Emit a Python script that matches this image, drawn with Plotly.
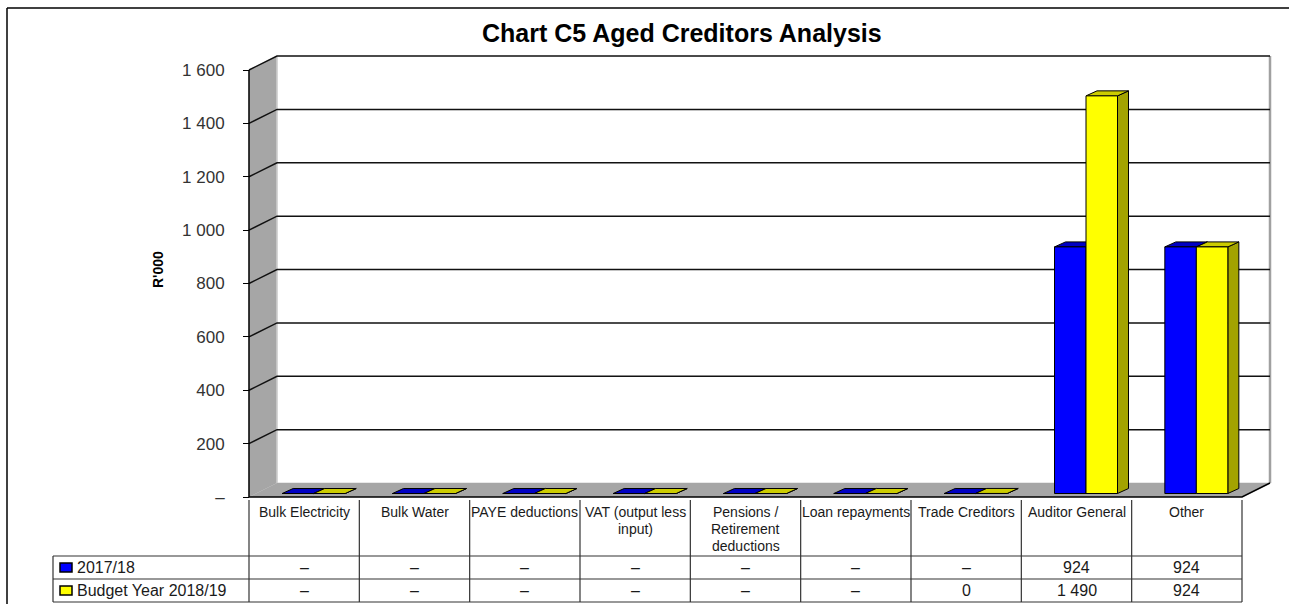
import plotly.graph_objects as go

# ---------------- data ----------------
categories = ["Bulk Electricity", "Bulk Water", "PAYE deductions",
              "VAT (output less input)", "Pensions / Retirement deductions",
              "Loan repayments", "Trade Creditors", "Auditor General", "Other"]
category_labels = ["Bulk Electricity", "Bulk Water", "PAYE deductions",
                   "VAT (output less<br>input)", "Pensions /<br>Retirement<br>deductions",
                   "Loan repayments", "Trade Creditors", "Auditor General", "Other"]
series_names = ["2017/18", "Budget Year 2018/19"]
values_2017_18 = [0, 0, 0, 0, 0, 0, 0, 924, 924]
values_2018_19 = [0, 0, 0, 0, 0, 0, 0.2, 1490, 924]
y_ticks = [0, 200, 400, 600, 800, 1000, 1200, 1400, 1600]
title_text = "Chart C5 Aged Creditors Analysis"
y_title = "R'000"

series_values = [values_2017_18, values_2018_19]

# ---------------- styles / geometry (pixels) ----------------
W, H = 1289, 604
FONT = "Liberation Sans, Arial, sans-serif"
AX_LEFT = 249.0
CAT_W = (1242.0 - 249.0) / len(categories)
Y0_PX = 497.0
PX_PER_UNIT = (497.0 - 70.0) / 1600.0
DEPTH_X, DEPTH_Y = 28.0, 14.0
PLOT_LEFT, PLOT_RIGHT, PLOT_TOP, PLOT_BOTTOM = 244.0, 1276.0, 46.0, 504.0

front_face = ["#0000ff", "#ffff00"]
top_face = ["#0000c4", "#cccc00"]
side_face = ["#000099", "#a3a300"]
WALL_GREY = "#a6a6a6"

BAR_W_PX = 31.5
PAIR_SHIFT_PX = 9.5
BAR_BASE_PX = 3.5
BAR_DEPTH_X, BAR_DEPTH_Y = 11.0, 5.0
TICK_TXT = 17
CAT_TXT = 14
TABLE_TXT = 16


def dx(px):
    return px / CAT_W


def dy(px):
    return px / PX_PER_UNIT


def fmt(v):
    if v == 0:
        return "–"
    return f"{round(v):,}".replace(",", " ")


def pxp(x):
    return x / W


def pyp(y):
    return 1 - y / H


n = len(categories)
x_left = -0.5
x_right = n - 0.5
ymax = y_ticks[-1]
BX, BY = dx(DEPTH_X), dy(DEPTH_Y)

fig = go.Figure()


def poly(xs, ys, fill, line_color="black", lw=1.0):
    fig.add_trace(go.Scatter(x=xs, y=ys, mode="lines", fill="toself",
                             fillcolor=fill, line=dict(color=line_color, width=lw),
                             hoverinfo="skip", showlegend=False))


def line(xs, ys, color="black", lw=1.5):
    fig.add_trace(go.Scatter(x=xs, y=ys, mode="lines",
                             line=dict(color=color, width=lw),
                             hoverinfo="skip", showlegend=False))


# side wall
poly([x_left, x_left, x_left + BX, x_left + BX],
     [0, ymax, ymax + BY, BY], WALL_GREY, line_color=WALL_GREY, lw=0.5)
# floor
poly([x_left, x_left + BX, x_right + BX, x_right],
     [0, BY, BY, 0], WALL_GREY, line_color=WALL_GREY, lw=0.5)
# back wall edges
line([x_left + BX, x_left + BX], [BY, ymax + BY], color="#cfcfcf", lw=1.5)
line([x_right + BX, x_right + BX], [BY, ymax + BY], color="#a0a0a0", lw=2.5)

# gridlines (side wall diagonal + back wall)
gx, gy = [], []
for t in y_ticks[1:]:
    gx += [x_left, x_left + BX, x_right + BX, None]
    gy += [t, t + BY, t + BY, None]
line(gx, gy, color="#111111", lw=1.5)

# front axis line and floor front edge
line([x_left, x_left], [0, ymax], color="black", lw=1.5)
line([x_left, x_right, x_right + BX], [0, 0, BY], color="black", lw=1.5)

# 3D bars
bw = dx(BAR_W_PX)
shift = dx(PAIR_SHIFT_PX)
base = dy(BAR_BASE_PX)
tdx, tdy = dx(BAR_DEPTH_X), dy(BAR_DEPTH_Y)
for s, vals in enumerate(series_values):
    sx, sy, tx, ty, fx, fy = [], [], [], [], [], []
    for i, v in enumerate(vals):
        x0 = i + shift - bw + s * bw
        x1 = x0 + bw
        y1 = base + v
        sx += [x1, x1, x1 + tdx, x1 + tdx, x1, None]
        sy += [base, y1, y1 + tdy, base + tdy, base, None]
        tx += [x0, x1, x1 + tdx, x0 + tdx, x0, None]
        ty += [y1, y1, y1 + tdy, y1 + tdy, y1, None]
        fx += [x0, x1, x1, x0, x0, None]
        fy += [base, base, y1, y1, base, None]
    poly(sx, sy, side_face[s])
    poly(tx, ty, top_face[s])
    poly(fx, fy, front_face[s])

fig.update_layout(
    width=W, height=H,
    margin=dict(l=0, r=0, t=0, b=0, autoexpand=False),
    paper_bgcolor="white", plot_bgcolor="white",
    showlegend=False,
    font=dict(family=FONT, color="#222222"),
    xaxis=dict(domain=[pxp(PLOT_LEFT), pxp(PLOT_RIGHT)],
               range=[x_left - dx(AX_LEFT - PLOT_LEFT), x_left + dx(PLOT_RIGHT - AX_LEFT)],
               showgrid=False, zeroline=False, showline=False,
               showticklabels=False, ticks="", fixedrange=True),
    yaxis=dict(domain=[pyp(PLOT_BOTTOM), pyp(PLOT_TOP)],
               range=[-dy(PLOT_BOTTOM - Y0_PX), dy(Y0_PX - PLOT_TOP)],
               anchor="free", position=pxp(AX_LEFT),
               tickvals=y_ticks, ticktext=[fmt(v) for v in y_ticks],
               ticks="outside", ticklen=6, tickwidth=1.3, tickcolor="black",
               ticklabelstandoff=15,
               tickfont=dict(family=FONT, size=TICK_TXT, color="#333333"),
               showgrid=False, zeroline=False, showline=False, fixedrange=True),
)

shapes = []


def seg(x0, y0, x1, y1, color="#333333", w=1.2):
    shapes.append(dict(type="line", xref="paper", yref="paper",
                       x0=pxp(x0), y0=pyp(y0), x1=pxp(x1), y1=pyp(y1),
                       line=dict(color=color, width=w)))


# outer frame
seg(7, 8, 1289, 8, color="black", w=1.5)
seg(7, 8, 7, 604, color="black", w=1.5)

# data table
TABLE_LEFT = 53
HEADER_TOP, ROW1_TOP, ROW2_TOP, TABLE_BOTTOM = 500, 556, 579, 602
col_edges = [AX_LEFT + k * CAT_W for k in range(n + 1)]
for xe in col_edges:
    seg(xe, HEADER_TOP, xe, TABLE_BOTTOM)
seg(TABLE_LEFT, ROW1_TOP, TABLE_LEFT, TABLE_BOTTOM)
for yr in (ROW1_TOP, ROW2_TOP, TABLE_BOTTOM):
    seg(TABLE_LEFT, yr, col_edges[-1], yr)

# legend keys
row_centers = [(ROW1_TOP + ROW2_TOP) / 2, (ROW2_TOP + TABLE_BOTTOM) / 2]
for s in range(2):
    yc = row_centers[s]
    shapes.append(dict(type="rect", xref="paper", yref="paper",
                       x0=pxp(60), x1=pxp(72), y0=pyp(yc - 4.5), y1=pyp(yc + 4.5),
                       fillcolor=front_face[s], line=dict(color="black", width=1.5)))

annotations = []


def text(t, x, y, size=TABLE_TXT, color="#1a1a1a", xref="paper", xanchor="center", angle=0):
    annotations.append(dict(text=t, xref=xref, yref="paper", x=x, y=pyp(y),
                            xanchor=xanchor, yanchor="middle", showarrow=False,
                            textangle=angle,
                            font=dict(family=FONT, size=size, color=color)))


text(f"<b>{title_text}</b>", pxp(682), 33, size=25, color="black")
text(f"<b>{y_title}</b>", pxp(158), 270, size=14, color="black", angle=-90)

LINE_H = 17
for i, lab in enumerate(category_labels):
    for k, part in enumerate(lab.split("<br>")):
        text(part, i, 512 + k * LINE_H, size=CAT_TXT, xref="x")

for s, vals in enumerate(series_values):
    text(series_names[s], pxp(75), row_centers[s], xanchor="left")
    for i, v in enumerate(vals):
        text(fmt(v), i, row_centers[s], xref="x")

fig.update_layout(shapes=shapes, annotations=annotations)
fig.write_html("out.html", config={"displayModeBar": False},
               post_script="document.body.style.margin='0';document.body.style.overflow='hidden';")
